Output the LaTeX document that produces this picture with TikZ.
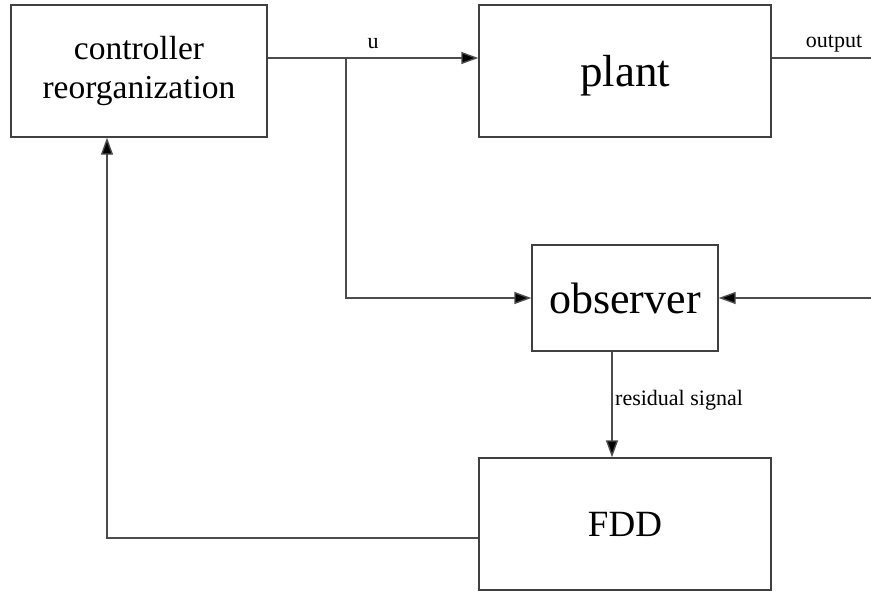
\documentclass[tikz,border=0pt]{standalone}
\usepackage{fontspec}
\setmainfont{Liberation Serif}
\usetikzlibrary{arrows.meta,calc}
\begin{document}
\begin{tikzpicture}[x=1pt,y=-1pt,
  wire/.style={line width=1.4pt,draw=black!70},
  arr/.style={wire,-{Triangle[length=17pt,width=12pt,fill=black]}},
  block/.style={draw=black!75,line width=1.4pt,rectangle,inner sep=0pt,align=center,fill=white},
  lbl/.style={font=\fontsize{22}{24}\selectfont,inner sep=0pt}]
\useasboundingbox (0,0) rectangle (871,594);
\fill[white] (0,0) rectangle (871,594);

% blocks
\node[block,minimum width=256pt,minimum height=132pt,
      font=\fontsize{33.5}{39}\selectfont] (ctrl) at (139,71) {controller\\reorganization};
\node[block,minimum width=292pt,minimum height=132pt] (plant) at (625,71) {};
\node[font=\fontsize{45}{50}\selectfont,inner sep=0pt] (plantlbl) at (625,76) {plant};
\node[block,minimum width=186pt,minimum height=106pt,
      font=\fontsize{44}{50}\selectfont] (obs) at (625,298) {observer};
\node[block,minimum width=292pt,minimum height=132pt,
      font=\fontsize{37}{42}\selectfont] (fdd) at (625,524) {FDD};

% auxiliary points
\coordinate (j) at (346,58);
\coordinate (outend) at (871,58);
\coordinate (inend) at (871,298);
\coordinate (res) at (612,352);
\coordinate (fb) at (107,538);

% control signal u
\draw[arr] (ctrl.east |- j) -- (plant.west |- j);
\node[lbl] (ulbl) at (373,44) {u};
\draw[arr] (j) |- (obs.west);

% plant output
\draw[wire] (plant.east |- outend) -- (outend);
\node[lbl] (outlbl) at (834,44) {output};

% measured output into observer
\draw[arr] (inend) -- (obs.east);

% residual
\draw[arr] (res) -- (res |- fdd.north);
\node[lbl,anchor=base west] (reslbl) at (615,405) {residual signal};

% reconfiguration feedback
\draw[arr] (fdd.west |- fb) -- (fb) -- (fb |- ctrl.south);
\end{tikzpicture}
\end{document}
